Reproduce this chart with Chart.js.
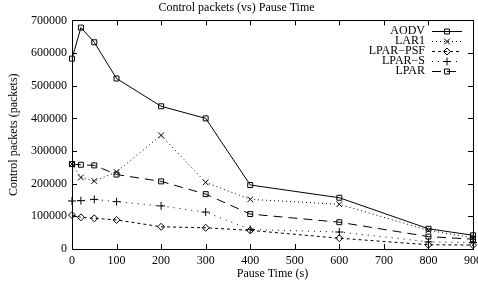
<!DOCTYPE html>
<html>
<head>
<meta charset="utf-8">
<script src="https://cdn.jsdelivr.net/npm/chart.js@4/dist/chart.umd.min.js"></script>
<style>
html,body{margin:0;padding:0;background:#fff;overflow:hidden;}
#wrap{width:478px;height:286px;position:relative;}
</style>
</head>
<body>
<div id="wrap"><canvas id="c" width="478" height="286"></canvas></div>
<script>
const pauseTimes = [0, 20, 50, 100, 200, 300, 400, 600, 800, 900];
const aodv    = [583000, 678000, 633000, 522000, 437000, 400000, 196000, 157000, 62000, 42000];
const lar1    = [260000, 219000, 208000, 236000, 348000, 204000, 152000, 137000, 57000, 34000];
const lparPsf = [104000, 97000, 94000, 89000, 68000, 65000, 57000, 33000, 13000, 12000];
const lparS   = [147000, 148000, 152000, 145000, 132000, 113000, 60000, 52000, 22000, 20000];
const lpar    = [260000, 258000, 256000, 228000, 207000, 168000, 107000, 82000, 38000, 30000];
const seriesNames = ['AODV', 'LAR1', 'LPAR\u2212PSF', 'LPAR\u2212S', 'LPAR'];
const xTicks = [0, 100, 200, 300, 400, 500, 600, 700, 800, 900];
const yTicks = [0, 100000, 200000, 300000, 400000, 500000, 600000, 700000];

const FONT = '"Liberation Serif", "Times New Roman", serif';
const toXY = arr => pauseTimes.map((x, i) => ({x: x, y: arr[i]}));

const styles = [
  {dash: [], point: 'rect', r: 3.5},
  {dash: [1, 3], point: 'crossRot', r: 4},
  {dash: [3, 3], point: 'rectRot', r: 3.5},
  {dash: [1, 5], point: 'cross', r: 4},
  {dash: [9, 6], point: 'rect', r: 3.5}
];
const allData = [aodv, lar1, lparPsf, lparS, lpar];

const datasets = allData.map((arr, i) => ({
  label: seriesNames[i],
  data: toXY(arr),
  borderColor: '#000',
  backgroundColor: 'rgba(0,0,0,0)',
  borderWidth: 1,
  borderDash: styles[i].dash,
  pointStyle: styles[i].point,
  pointRadius: styles[i].r,
  pointBorderWidth: 1,
  pointBorderColor: '#000',
  pointBackgroundColor: 'rgba(0,0,0,0)',
  tension: 0,
  clip: false
}));

const frame = {
  id: 'frame',
  afterDraw(chart) {
    const ctx = chart.ctx, a = chart.chartArea;
    const xs = chart.scales.x, ys = chart.scales.y;
    ctx.save();
    ctx.strokeStyle = '#000';
    ctx.lineWidth = 1;
    ctx.setLineDash([]);
    ctx.strokeRect(Math.round(a.left) + 0.5, Math.round(a.top) + 0.5,
                   Math.round(a.right - a.left), Math.round(a.bottom - a.top));
    const tl = 5;
    ctx.beginPath();
    xTicks.forEach(v => {
      const px = Math.round(xs.getPixelForValue(v)) + 0.5;
      ctx.moveTo(px, a.bottom); ctx.lineTo(px, a.bottom - tl);
      ctx.moveTo(px, a.top); ctx.lineTo(px, a.top + tl);
    });
    yTicks.forEach(v => {
      const py = Math.round(ys.getPixelForValue(v)) + 0.5;
      ctx.moveTo(a.left, py); ctx.lineTo(a.left + tl, py);
      ctx.moveTo(a.right, py); ctx.lineTo(a.right - tl, py);
    });
    ctx.stroke();

    // legend
    ctx.font = '12px ' + FONT;
    ctx.textAlign = 'right';
    ctx.textBaseline = 'middle';
    const textRight = 425, sx0 = 432, sx1 = 462, y0 = 31, dy = 10;
    chart.data.datasets.forEach((ds, i) => {
      const y = y0 + i * dy;
      ctx.fillStyle = '#000';
      ctx.fillText(ds.label, textRight, y);
      ctx.beginPath();
      ctx.setLineDash(ds.borderDash);
      ctx.moveTo(sx0, y + 0.5); ctx.lineTo(sx1, y + 0.5);
      ctx.stroke();
      ctx.setLineDash([]);
      if (Chart.helpers && Chart.helpers.drawPoint) {
        ctx.fillStyle = 'rgba(0,0,0,0)';
        ctx.strokeStyle = '#000';
        Chart.helpers.drawPoint(ctx, {pointStyle: ds.pointStyle, radius: ds.pointRadius, borderWidth: 1, rotation: 0}, (sx0 + sx1) / 2, y + 0.5);
      }
    });
    ctx.restore();
  }
};

new Chart(document.getElementById('c'), {
  type: 'line',
  data: {datasets: datasets},
  options: {
    responsive: false,
    animation: false,
    devicePixelRatio: 1,
    layout: {padding: {left: 0, right: 5, top: 0, bottom: 0}},
    plugins: {
      legend: {display: false},
      tooltip: {enabled: false},
      title: {
        display: true,
        text: 'Control packets (vs) Pause Time',
        color: '#000',
        font: {family: FONT, size: 12, weight: 'normal'},
        padding: {top: 1, bottom: 5}
      }
    },
    scales: {
      x: {
        type: 'linear',
        min: 0, max: 900,
        afterBuildTicks(s) { s.ticks = xTicks.map(v => ({value: v})); },
        afterFit(s) { s.height = 37; s.paddingRight = 0; s.paddingLeft = 0; },
        grid: {display: false, drawTicks: false},
        border: {display: false},
        ticks: {color: '#000', font: {family: FONT, size: 12}, padding: 5, maxRotation: 0, autoSkip: false,
                callback: v => String(v)},
        title: {display: true, text: 'Pause Time (s)', color: '#000',
                font: {family: FONT, size: 12}, padding: {top: 0, bottom: 5}}
      },
      y: {
        type: 'linear',
        min: 0, max: 700000,
        afterBuildTicks(s) { s.ticks = yTicks.map(v => ({value: v})); },
        afterFit(s) { s.width = 72; },
        grid: {display: false, drawTicks: false},
        border: {display: false},
        ticks: {color: '#000', font: {family: FONT, size: 12}, padding: 5, autoSkip: false,
                callback: v => String(v)},
        title: {display: true, text: 'Control packets (packets)', color: '#000',
                font: {family: FONT, size: 12}, padding: {top: 7, bottom: 0}}
      }
    }
  },
  plugins: [frame]
});
</script>
</body>
</html>
